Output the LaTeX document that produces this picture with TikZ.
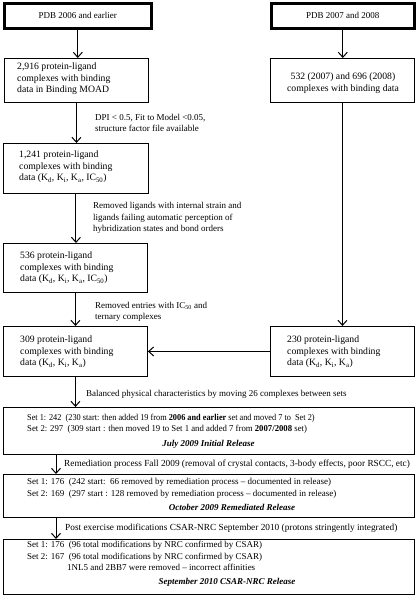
\documentclass[tikz,border=0pt]{standalone}
\usepackage{fontspec}
\setmainfont{Liberation Serif}
\usetikzlibrary{arrows.meta}
\begin{document}
\begin{tikzpicture}[x=1pt,y=-1pt,
  box/.style={draw=black,line width=0.9pt,inner sep=0,anchor=north west},
  thickbox/.style={draw=black,line width=2.6pt,inner sep=0,anchor=north west},
  txt/.style={inner sep=0,align=left,anchor=west,font=\fontsize{9}{11.5}\selectfont},
  btxt/.style={txt,font=\fontsize{9.7}{11.6}\selectfont},
  ctxt/.style={inner sep=0,align=center,font=\fontsize{9}{11.5}\selectfont},
  ttl/.style={ctxt,font=\fontsize{9}{11.5}\selectfont\bfseries\itshape},
  arr/.style={line width=1pt,-{Straight Barb[length=5pt,width=9pt,line width=1pt]}}]
\useasboundingbox (0,0) rectangle (416,596);
% boxes
\node[thickbox,minimum width=147pt,minimum height=25pt] (A) at (3,2) {};
\node[thickbox,minimum width=143pt,minimum height=25pt] (B) at (270,2) {};
\node[box,minimum width=144pt,minimum height=44pt] (C) at (4,58) {};
\node[box,minimum width=144pt,minimum height=44pt] (D) at (270,58) {};
\node[box,minimum width=145pt,minimum height=50pt] (E) at (3,143) {};
\node[box,minimum width=144pt,minimum height=49pt] (F) at (3,243) {};
\node[box,minimum width=144pt,minimum height=50pt] (G) at (3,326) {};
\node[box,minimum width=144pt,minimum height=50pt] (H) at (270,326) {};
\node[box,minimum width=411pt,minimum height=47pt] (I) at (3,407) {};
\node[box,minimum width=411pt,minimum height=43pt] (J) at (3,474) {};
\node[box,minimum width=411pt,minimum height=55pt] (K) at (3,539) {};
% box texts
\node[ctxt] (tA) at (A.center) {PDB 2006 and earlier};
\node[ctxt] (tB) at (B.center) {PDB 2007 and 2008};
\node[btxt] (tC) at (17,79) {2,916 protein-ligand\\complexes with binding\\data in Binding MOAD};
\node[ctxt,font=\fontsize{9.7}{11.6}\selectfont] (tD) at (343,83) {532 (2007) and 696 (2008)\\complexes with binding data};
\node[btxt] (tE) at (19,167) {1,241 protein-ligand\\complexes with binding\\data (K\textsubscript{d}, K\textsubscript{i}, K\textsubscript{a}, IC\textsubscript{50})};
\node[btxt] (tF) at (20,268) {536 protein-ligand\\complexes with binding\\data (K\textsubscript{d}, K\textsubscript{i}, K\textsubscript{a}, IC\textsubscript{50})};
\node[btxt] (tG) at (20,352) {309 protein-ligand\\complexes with binding\\data (K\textsubscript{d}, K\textsubscript{i}, K\textsubscript{a})};
\node[btxt] (tH) at (287,352) {230 protein-ligand\\complexes with binding\\data (K\textsubscript{d}, K\textsubscript{i}, K\textsubscript{a})};
\node[txt] (tI) at (27,424) {\scalebox{0.92}[1]{Set 1: 242~~(230 start: then added 19 from \textbf{2006 and earlier} set and moved 7 to~~Set 2)}\\\scalebox{0.97}[1]{Set 2: 297~~(309 start : then moved 19 to Set 1 and added 7 from \textbf{2007/2008} set)}};
\node[ttl] (tI2) at (208.5,444) {July 2009 Initial Release};
\node[txt] (tJ) at (27,488.5) {Set 1: 176~~(242 start:~~66 removed by remediation process -- documented in release)\\Set 2: 169~~(297 start : 128 removed by remediation process -- documented in release)};
\node[ttl] (tJ2) at (232,507.5) {October 2009 Remediated Release};
\node[txt] (tK) at (27,551.5) {Set 1: 176~~(96 total modifications by NRC confirmed by CSAR)\\Set 2: 167~~(96 total modifications by NRC confirmed by CSAR)};
\node[txt] (tK2) at (67,567.5) {1NL5 and 2BB7 were removed -- incorrect affinities};
\node[ttl] (tK3) at (227,582) {September 2010 CSAR-NRC Release};
% arrow labels
\node[txt] (l1) at (95,123) {DPI < 0.5, Fit to Model <0.05,\\structure factor file available};
\node[txt] (l2) at (93,218) {Removed ligands with internal strain and\\ligands failing automatic perception of\\hybridization states and bond orders};
\node[txt] (l3) at (95,312) {Removed entries with IC\textsubscript{50} and\\ternary complexes};
\node[txt] (l4) at (86,394) {Balanced physical characteristics by moving 26 complexes between sets};
\node[txt,font=\fontsize{9.3}{11.5}\selectfont] (l5) at (64,464) {Remediation process Fall 2009 (removal of crystal contacts, 3-body effects, poor RSCC, etc)};
\node[txt,font=\fontsize{9.3}{11.5}\selectfont] (l6) at (65,528) {Post exercise modifications CSAR-NRC September 2010 (protons stringently integrated)};
% connectors
\draw[arr] (A.south) -- (A.south |- C.north);
\draw[arr] (C.south) -- (C.south |- E.north);
\draw[arr] (E.south) -- (E.south |- F.north);
\draw[arr] (F.south) -- (F.south |- G.north);
\draw[arr] (G.south) -- (G.south |- I.north);
\draw[arr] (B.south) -- (B.south |- D.north);
\draw[arr] (D.south) -- (D.south |- H.north);
\draw[arr] (H.west) -- (G.east);
\coordinate (iJ) at ([xshift=53pt]I.south west);
\draw[arr] (iJ) -- (iJ |- J.north);
\coordinate (jK) at ([xshift=53pt]J.south west);
\draw[arr] (jK) -- (jK |- K.north);
\end{tikzpicture}
\end{document}
